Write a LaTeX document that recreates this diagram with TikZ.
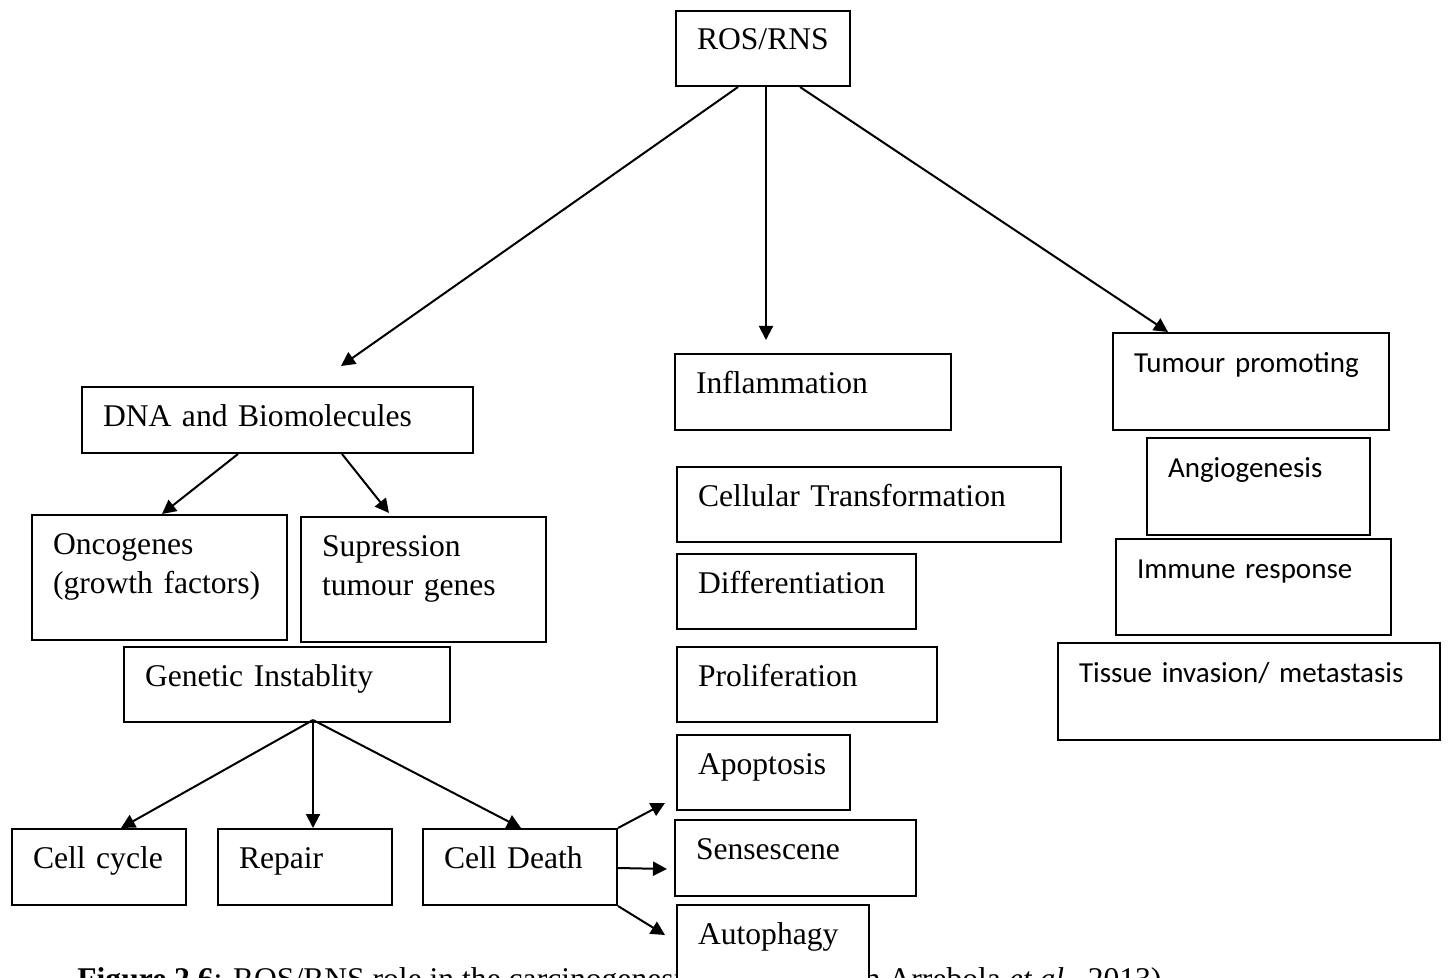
\documentclass[tikz,border=0pt]{standalone}
\usepackage{fontspec}
\setmainfont{Liberation Serif}
\newfontfamily\calfont{Carlito}
\usetikzlibrary{arrows.meta}
\tikzset{
  box/.style={draw, line width=1pt, fill=white, anchor=north west,
    inner xsep=10.5pt, inner ysep=0pt, align=left, text height=19.5pt,
    font=\fontsize{15.8pt}{19.5pt}\selectfont},
  cbox/.style={box, font=\calfont\fontsize{14.5pt}{19.5pt}\selectfont},
}
\begin{document}
\begin{tikzpicture}[x=0.5pt,y=-0.5pt]
      \useasboundingbox (0,0) rectangle (1449,978);
      \clip (0,0) rectangle (1449,978);
      \node[anchor=base west, inner sep=0pt, font=\fontsize{15.8pt}{19.5pt}\selectfont] (cap) at (77,989)
        {\textbf{Figure 2.6}: ROS/RNS role in the carcinogenesis (adapted from Arrebola \textit{et al}., 2013)};
      \draw
        (675,10) node[box, text width=66pt, text depth=18pt] (ros) {ROS/RNS}
        (81,386) node[box, text width=174.5pt, text depth=13.5pt] (dna) {DNA and Biomolecules}
        (31,514) node[box, text width=106.5pt, text depth=43pt] (onc) {Oncogenes\\(growth factors)}
        (300,516) node[box, text width=101.5pt, text depth=43pt] (sup) {Supression\\tumour genes}
        (123,646) node[box, text width=142pt, text depth=18pt] (gen) {Genetic Instablity}
        (11,828) node[box, text width=66pt, text depth=18.5pt] (cyc) {Cell cycle}
        (217,828) node[box, text width=66pt, text depth=18.5pt] (rep) {Repair}
        (422,828) node[box, text width=76pt, text depth=18.5pt] (dth) {Cell Death}
        (674,353) node[box, text width=117pt, text depth=18.5pt] (inf) {Inflammation}
        (676,466) node[box, text width=171pt, text depth=18pt] (cel) {Cellular Transformation}
        (676,553) node[box, text width=98.5pt, text depth=18pt] (dif) {Differentiation}
        (676,646) node[box, text width=109pt, text depth=18pt] (pro) {Proliferation}
        (676,734) node[box, text width=65.5pt, text depth=18pt] (apo) {Apoptosis}
        (674,819) node[box, text width=99.5pt, text depth=18.5pt] (sen) {Sensescene}
        (676,904) node[box, text width=75pt, text depth=28.5pt] (aut) {Autophagy}
        (1112,332) node[cbox, text width=117pt, text depth=29pt] (tum) {Tumour promoting}
        (1146,437) node[cbox, text width=90.5pt, text depth=29pt] (ang) {Angiogenesis}
        (1115,538) node[cbox, text width=116.5pt, text depth=28.5pt] (imm) {Immune response}
        (1057,642) node[cbox, text width=170pt, text depth=29pt] (tis) {Tissue invasion/ metastasis};
      \begin{scope}[-{Triangle[length=7pt,width=7pt]}, line width=1pt]
        \draw ([shift={(63,0)}]ros.south west) to ([shift={(260,-20)}]dna.north west);
        \draw ([shift={(91,0)}]ros.south west) to ([shift={(92,-13)}]inf.north west);
        \draw ([shift={(125,0)}]ros.south west) to ([shift={(56,0)}]tum.north west);
        \draw ([shift={(157,0)}]dna.south west) to ([shift={(131,0)}]onc.north west);
        \draw ([shift={(261,0)}]dna.south west) to ([shift={(89,-3)}]sup.north west);
        \draw ([shift={(190,-3)}]gen.south west) to ([shift={(110,0)}]cyc.north west);
        \draw ([shift={(190,-3)}]gen.south west) to ([shift={(96,0)}]rep.north west);
        \draw ([shift={(190,-3)}]gen.south west) to ([shift={(99,0)}]dth.north west);
        \draw (dth.north east) to ([shift={(-11,-8)}]apo.south west);
        \draw ([shift={(0,40)}]dth.north east) to ([shift={(-7,-28)}]sen.south west);
        \draw (dth.south east) to ([shift={(-11,31)}]aut.north west);
      \end{scope}
    \end{tikzpicture}
\end{document}
